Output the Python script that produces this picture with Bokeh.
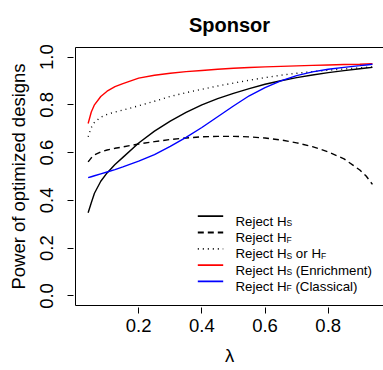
from bokeh.plotting import figure
from bokeh.models import Range1d, FixedTicker, LinearAxis, NumeralTickFormatter
from bokeh.core.properties import value
from bokeh.embed import file_html
from bokeh.resources import INLINE

# ---------------- data ----------------
lam = [0.04, 0.05, 0.06, 0.08, 0.10, 0.125, 0.15, 0.20, 0.25, 0.30, 0.35, 0.40,
       0.45, 0.50, 0.55, 0.60, 0.65, 0.70, 0.75, 0.80, 0.85, 0.90, 0.92, 0.94]
reject_hs = [0.348, 0.39, 0.43, 0.48, 0.515, 0.55, 0.58, 0.64, 0.69, 0.732, 0.768, 0.80,
             0.826, 0.848, 0.868, 0.886, 0.901, 0.914, 0.925, 0.935, 0.943, 0.951, 0.954, 0.957]
reject_hf = [0.561, 0.578, 0.590, 0.603, 0.611, 0.618, 0.624, 0.636, 0.646, 0.655, 0.661, 0.666,
             0.668, 0.668, 0.666, 0.661, 0.653, 0.641, 0.625, 0.603, 0.574, 0.527, 0.502, 0.467]
reject_hs_or_hf = [0.666, 0.705, 0.727, 0.748, 0.760, 0.770, 0.778, 0.796, 0.815, 0.835, 0.851, 0.865,
                   0.879, 0.891, 0.903, 0.914, 0.924, 0.932, 0.939, 0.945, 0.950, 0.955, 0.957, 0.959]
reject_hs_enrich = [0.722, 0.77, 0.80, 0.835, 0.857, 0.876, 0.889, 0.912, 0.924, 0.932, 0.939, 0.944,
                    0.949, 0.953, 0.956, 0.959, 0.961, 0.963, 0.965, 0.967, 0.969, 0.970, 0.971, 0.972]
reject_hf_classic = [0.495, 0.499, 0.503, 0.511, 0.519, 0.529, 0.540, 0.564, 0.592, 0.626, 0.664, 0.705,
                     0.750, 0.795, 0.838, 0.872, 0.900, 0.922, 0.938, 0.949, 0.957, 0.964, 0.967, 0.970]

x_ticks = [0.2, 0.4, 0.6, 0.8]
y_ticks = [0.0, 0.2, 0.4, 0.6, 0.8, 1.0]

legend_labels = [
    [("Reject H", 0), ("S", 1)],
    [("Reject H", 0), ("F", 1)],
    [("Reject H", 0), ("S", 1), (" or H", 0), ("F", 1)],
    [("Reject H", 0), ("S", 1), (" (Enrichment)", 0)],
    [("Reject H", 0), ("F", 1), (" (Classical)", 0)],
]

# ---------------- styles ----------------
series = [reject_hs, reject_hf, reject_hs_or_hf, reject_hs_enrich, reject_hf_classic]
colors = ["black", "black", "black", "#ff0000", "#0000ff"]
dashes = ["solid", "6 4", "1 4", "solid", "solid"]
LW = 1.4
FONT = "Liberation Sans"

# frame geometry (pixels)
W, H = 383, 370
FL, FT, FB = 75, 47, 65
XR = (0.0, 0.975)
YR = (-0.04, 1.04)
KX = (W - FL) / (XR[1] - XR[0])
KY = (H - FT - FB) / (YR[1] - YR[0])


def dx(px):
    return XR[0] + (px - FL) / KX


def dy(py):
    return YR[1] - (py - FT) / KY


p = figure(width=W, height=H, x_range=Range1d(*XR), y_range=Range1d(*YR),
           output_backend="svg", toolbar_location=None,
           min_border_left=FL, min_border_right=0, min_border_top=FT, min_border_bottom=FB)
p.grid.visible = False
p.outline_line_color = None
p.background_fill_color = "white"
p.border_fill_color = "white"

# title
p.title.text = "Sponsor"
p.title.align = "center"
p.title.text_font = FONT
p.title.text_font_size = "20px"
p.title.text_font_style = "bold"
p.title.text_color = "black"
p.title.standoff = 23

# axes
xa = p.xaxis[0]
xa.ticker = FixedTicker(ticks=x_ticks)
xa.formatter = NumeralTickFormatter(format="0.0")
ya = p.yaxis[0]
ya.ticker = FixedTicker(ticks=y_ticks)
ya.formatter = NumeralTickFormatter(format="0.0")
ya.major_label_orientation = "vertical"
for ax in (xa, ya):
    ax.axis_line_color = "black"
    ax.axis_line_width = 1
    ax.major_tick_line_color = "black"
    ax.major_tick_line_width = 1
    ax.major_tick_in = -2
    ax.major_tick_out = 8
    ax.minor_tick_line_color = None
    ax.major_label_text_font = FONT
    ax.major_label_text_font_size = "18.5px"
    ax.major_label_text_color = "black"
    ax.axis_label_text_font = FONT
    ax.axis_label_text_font_size = "18.5px"
    ax.axis_label_text_font_style = "normal"
    ax.axis_label_text_color = "black"
xa.axis_label = "λ"
ya.axis_label = "Power of optimized designs"
xa.major_label_standoff = 5
xa.axis_label_standoff = 10
ya.major_label_standoff = 14
ya.axis_label_standoff = 9

top = LinearAxis(ticker=FixedTicker(ticks=[]), major_tick_out=0, major_tick_in=0,
                 major_label_standoff=0, major_label_text_font_size="0px",
                 major_tick_line_color=None, minor_tick_line_color=None,
                 axis_line_color="black", axis_line_width=1)
p.add_layout(top, "above")

# curves
for ys, c, d in zip(series, colors, dashes):
    p.line(lam, ys, line_color=c, line_width=LW, line_dash=d)

# legend (manual, to allow subscripts)
CW = {' ': 278, '(': 333, ')': 333, 'C': 722, 'E': 667, 'F': 611, 'H': 722, 'R': 722,
      'S': 667, 'a': 556, 'c': 500, 'e': 556, 'h': 556, 'i': 222, 'j': 222, 'l': 222,
      'm': 833, 'n': 556, 'o': 556, 'r': 333, 's': 500, 't': 278}
MAIN_FS, SUB_FS = 13.3, 8.5
row_py0, row_step = 215.7, 16.3
line_px0, line_px1, text_px0 = 197.3, 222.7, 235.0


def width(s, fs):
    return sum(CW.get(ch, 556) for ch in s) / 1000.0 * fs


mx, my, mt, sx, sy, st = [], [], [], [], [], []
for i, pieces in enumerate(legend_labels):
    py = row_py0 + i * row_step
    p.line([dx(line_px0), dx(line_px1)], [dy(py), dy(py)], line_color=colors[i],
           line_width=LW + 0.4, line_dash=dashes[i])
    cur = text_px0
    for s, sub in pieces:
        fs = SUB_FS if sub else MAIN_FS
        core = s.lstrip(" ")
        cur += width(s[:len(s) - len(core)], fs)
        if sub:
            sx.append(dx(cur)); sy.append(dy(py + 7)); st.append(core)
        else:
            mx.append(dx(cur)); my.append(dy(py + 5)); mt.append(core)
        cur += width(core, fs)

p.text(x=mx, y=my, text=mt, text_font=value(FONT), text_font_size=f"{MAIN_FS}px",
       text_baseline="alphabetic", text_align="left", text_color="black")
p.text(x=sx, y=sy, text=st, text_font=value(FONT), text_font_size=f"{SUB_FS}px",
       text_baseline="alphabetic", text_align="left", text_color="black")

open("out.html", "w").write(file_html(p, INLINE))
